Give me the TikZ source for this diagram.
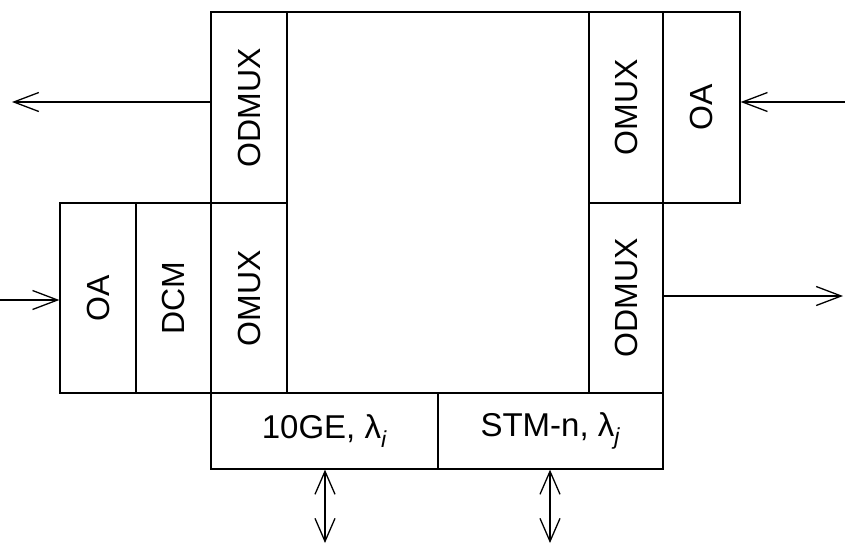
\documentclass[tikz,border=0pt]{standalone}
\usepackage{fontspec}
\setmainfont{Liberation Sans}
\usetikzlibrary{arrows.meta}
\begin{document}
\begin{tikzpicture}[x=1pt,y=-1pt,line width=1.3pt,
  cell/.style={draw,rectangle,inner sep=0pt,font=\fontsize{32}{38}\selectfont},
  wide/.style={cell,font=\fontsize{33}{39}\selectfont},
  arr/.style={-{Straight Barb[length=25pt,width=19pt]}},
  darr/.style={{Straight Barb[length=23pt,width=20pt]}-{Straight Barb[length=23pt,width=20pt]}}]
\useasboundingbox (0,0) rectangle (845,544);
% core box
\node[cell,minimum width=452pt,minimum height=381pt] (core) at (437,202.5) {};
% left column
\node[cell,minimum width=76pt,minimum height=191pt] (odmuxL) at (249,107.5) {\rotatebox{90}{ODMUX}};
\node[cell,minimum width=76pt,minimum height=190pt] (omuxL) at (249,298) {\rotatebox{90}{OMUX}};
\node[cell,minimum width=75pt,minimum height=190pt] (dcm) at (173.5,298) {\rotatebox{90}{DCM}};
\node[cell,minimum width=76pt,minimum height=190pt] (oaL) at (98,298) {\rotatebox{90}{OA}};
% right column
\node[cell,minimum width=74pt,minimum height=191pt] (omuxR) at (626,107.5) {\rotatebox{90}{OMUX}};
\node[cell,minimum width=77pt,minimum height=191pt] (oaR) at (701.5,107.5) {\rotatebox{90}{OA}};
\node[cell,minimum width=74pt,minimum height=190pt] (odmuxR) at (626,298) {\rotatebox{90}{ODMUX}};
% bottom boxes
\node[wide,minimum width=227pt,minimum height=76pt] (ge) at (324.5,431) {10GE, λ\textsubscript{\textit{i}}};
\node[wide,minimum width=225pt,minimum height=76pt] (stm) at (550.5,431) {STM-n, λ\textsubscript{\textit{j}}};
% free ends
\coordinate (outL) at (12,102);
\coordinate (inR) at (845,102);
\coordinate (inL) at (0,300);
\coordinate (outR) at (843,296);
\coordinate (geEnd) at (325,543);
\coordinate (stmEnd) at (550,543);
% connectors
\draw[arr] (odmuxL.west |- outL) -- (outL);
\draw[arr] (inR) -- (oaR.east |- inR);
\draw[arr] (inL) -- (oaL.west |- inL);
\draw[arr] (odmuxR.east |- outR) -- (outR);
\draw[darr] (geEnd |- ge.south) -- (geEnd);
\draw[darr] (stmEnd |- stm.south) -- (stmEnd);
\end{tikzpicture}
\end{document}
